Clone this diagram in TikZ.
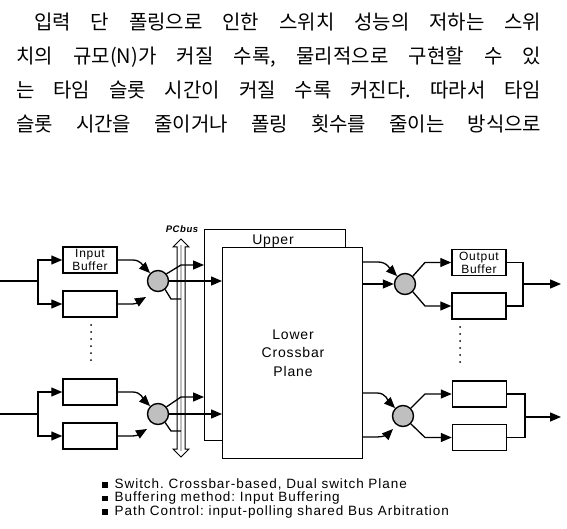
\documentclass[tikz,border=0pt]{standalone}
\usepackage{fontspec}
\setmainfont{Liberation Sans}
\newfontfamily\kr{Noto Sans CJK KR}
\newfontfamily\lab[LetterSpace=6]{Liberation Sans}
\newfontfamily\labw[LetterSpace=7]{Liberation Sans}
\usetikzlibrary{arrows.meta}
\frenchspacing
\begin{document}
\begin{tikzpicture}[x=1pt,y=-1pt,
  ln/.style={line width=1.3pt},
  arr/.style={line width=1.3pt,-{Triangle[length=11pt,width=9pt]}},
  buf/.style={draw,line width=1.4pt,minimum width=54pt,minimum height=26pt,inner sep=0pt,
    font=\lab\fontsize{12}{13}\selectfont,align=center},
  sw/.style={circle,draw,line width=1.4pt,fill=gray!50,minimum size=21pt,inner sep=0pt},
  plane/.style={draw,line width=1.4pt,fill=white,inner sep=0pt,anchor=north west},
  krline/.style={anchor=base west,inner sep=0pt,font=\kr\fontsize{20}{24}\selectfont},
  note/.style={anchor=base west,inner sep=0pt,font=\labw\fontsize{13.5}{15}\selectfont},
  dotm/.style={fill,circle,inner sep=0pt,minimum size=2pt}
]
\useasboundingbox (0,0) rectangle (567,529);

% ---- Korean paragraph ----
\node[krline] (k1) at (34,29.6) {\makebox[507pt][s]{입력 단 폴링으로 인한 스위치 성능의 저하는 스위}};
\node[krline] (k2) at (16,63.6) {\makebox[525pt][s]{치의 규모(N)가 커질 수록, 물리적으로 구현할 수 있}};
\node[krline] (k3) at (16,97.6) {\makebox[525pt][s]{는 타임 슬롯 시간이 커질 수록 커진다. 따라서 타임}};
\node[krline] (k4) at (16,131.6) {\makebox[525pt][s]{슬롯 시간을 줄이거나 폴링 횟수를 줄이는 방식으로}};

% ---- planes ----
\node[plane,minimum width=141pt,minimum height=211pt] (upper) at (204,229) {};
\node[anchor=base,inner sep=0pt,font=\lab\fontsize{14}{15}\selectfont] (upperlbl) at (273,244) {Upper};
\node[plane,minimum width=140pt,minimum height=211pt] (lower) at (222,247) {};
\node[align=center,inner sep=0pt,font=\lab\fontsize{14}{18.5}\selectfont] (lowerlbl) at (293,353) {Lower\\Crossbar\\Plane};

% ---- PC bus ----
\draw[line width=1pt,fill=white] (177,247) -- (173,247) -- (181,239) -- (189,247) -- (185,247)
  -- (185,449) -- (189,449) -- (181,457) -- (173,449) -- (177,449) -- cycle;
\fill[gray!50] (179.6,245) rectangle (182.4,451);
\node[inner sep=0pt,font=\lab\bfseries\itshape\fontsize{9.5}{11}\selectfont] (pcbus) at (182,229) {PCbus};

% ---- left top port ----
\coordinate (inA) at (0,281);
\coordinate (brA) at (38,281);
\node[buf] (IB1) at (90,260) {Input\\Buffer};
\node[buf] (IB2) at (90,304) {};
\node[sw] (C1) at (158,281) {};
\draw[ln] (inA) -- (brA);
\draw[arr] (brA) |- (IB1.west);
\draw[arr] (brA) |- (IB2.west);
\coordinate (tA) at (146,297);
\draw[arr] (IB1.east) -- ++(15,0) to[out=0,in=135] (C1.135);
\draw[arr] (IB2.east) -- ++(15,0) to[out=0,in=210] (tA);
\coordinate (uA) at (181,265);
\coordinate (dA1) at (171,299);
\coordinate (dA) at (181,299);
\draw[arr] (C1.40) -- (uA) -- (uA -| upper.west);
\draw[arr] (C1.east) -- (C1.east -| lower.west);
\draw[ln] (C1.-50) -- (dA1) -- (dA);

% ---- left bottom port ----
\coordinate (inB) at (0,414);
\coordinate (brB) at (38,414);
\node[buf] (IB3) at (90,392) {};
\node[buf] (IB4) at (90,436) {};
\node[sw] (C2) at (158,414) {};
\draw[ln] (inB) -- (brB);
\draw[arr] (brB) |- (IB3.west);
\draw[arr] (brB) |- (IB4.west);
\coordinate (tB) at (147,429);
\draw[arr] (IB3.east) -- ++(15,0) to[out=0,in=135] (C2.135);
\draw[arr] (IB4.east) -- ++(15,0) to[out=0,in=210] (tB);
\coordinate (uB) at (181,397);
\coordinate (dB1) at (171,431);
\coordinate (dB) at (181,431);
\draw[arr] (C2.40) -- (uB) -- (uB -| upper.west);
\draw[arr] (C2.east) -- (C2.east -| lower.west);
\draw[ln] (C2.-50) -- (dB1) -- (dB);

% ---- dots ----
\foreach \i in {0,...,5} {
  \node[dotm] (dl\i) at (91,325+7*\i) {};
  \node[dotm] (dr\i) at (460,327+7*\i) {};
}

% ---- right top port ----
\coordinate (oA1) at (362,262);
\coordinate (oA2) at (362,284);
\node[sw] (C3) at (405,284) {};
\node[buf] (OB1) at (479,262.5) {Output\\Buffer};
\node[buf] (OB2) at (479,306) {};
\draw[arr] (oA1) -- ++(16,0) to[out=0,in=135] (C3.135);
\draw[arr] (oA2) -- (C3.west);
\coordinate (uC) at (425,262.5);
\coordinate (dC) at (425,306);
\draw[arr] (C3.45) -- (uC) -- (uC -| OB1.west);
\draw[arr] (C3.-45) -- (dC) -- (dC -| OB2.west);
\coordinate (mC) at (523,284);
\coordinate (outC) at (561,284);
\draw[ln] (OB1.east) -| (mC) |- (OB2.east);
\draw[arr] (mC) -- (outC);

% ---- right bottom port ----
\coordinate (oB1) at (362,393);
\coordinate (oB2) at (362,437);
\node[sw] (C4) at (403,416) {};
\node[buf] (OB3) at (479.5,394) {};
\node[buf] (OB4) at (479.5,437.5) {};
\coordinate (tD) at (393,429);
\draw[arr] (oB1) -- ++(15,0) to[out=0,in=135] (C4.135);
\draw[arr] (oB2) -- ++(15,0) to[out=0,in=225] (tD);
\coordinate (uD) at (425,394);
\coordinate (dD) at (425,437.5);
\draw[arr] (C4.45) -- (uD) -- (uD -| OB3.west);
\draw[arr] (C4.-45) -- (dD) -- (dD -| OB4.west);
\coordinate (mD) at (525,417);
\coordinate (outD) at (561,417);
\draw[ln] (OB3.east) -| (mD) |- (OB4.east);
\draw[arr] (mD) -- (outD);

% ---- notes ----
\node[note] (n1) at (102,488) {\rule[0.3pt]{5.5pt}{5.5pt}\hspace{7pt}Switch. Crossbar-based, Dual switch Plane};
\node[note] (n2) at (102,501.5) {\rule[0.3pt]{5.5pt}{5.5pt}\hspace{7pt}Buffering method: Input Buffering};
\node[note] (n3) at (102,515) {\rule[0.3pt]{5.5pt}{5.5pt}\hspace{7pt}Path Control: input-polling shared Bus Arbitration};
\end{tikzpicture}
\end{document}
